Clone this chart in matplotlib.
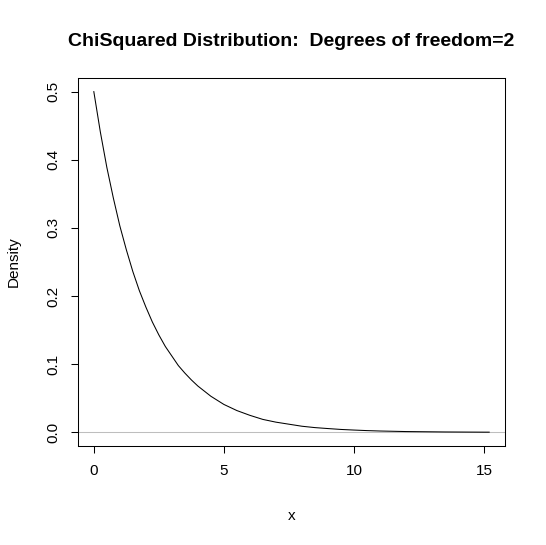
import matplotlib
matplotlib.use('Agg')
import matplotlib.pyplot as plt

# Valores (densidade qui-quadrado, 2 graus de liberdade)
x_vals = [0, 0.25, 0.5, 0.75, 1, 1.25, 1.5, 1.75, 2, 2.25, 2.5, 2.75, 3, 3.25, 3.5, 3.75, 4,
          4.5, 5, 5.5, 6, 6.5, 7, 7.5, 8, 8.5, 9, 9.5, 10, 10.5, 11, 11.5, 12, 12.5,
          13, 13.5, 14, 14.5, 15, 15.2]
density = [0.500, 0.441, 0.389, 0.344, 0.303, 0.268, 0.236, 0.208, 0.184, 0.162, 0.143,
           0.126, 0.112, 0.098, 0.087, 0.077, 0.068,
           0.053, 0.041, 0.032, 0.025, 0.019, 0.015, 0.012, 0.009, 0.007, 0.0056, 0.0043,
           0.0034, 0.0026, 0.0020, 0.0016, 0.0012, 0.0010, 0.0008, 0.0006, 0.0005,
           0.0004, 0.0003, 0.0003]
x_ticks = [0, 5, 10, 15]
y_ticks = [0.0, 0.1, 0.2, 0.3, 0.4, 0.5]

plt.rcParams['font.family'] = ['Liberation Sans', 'DejaVu Sans']

fig = plt.figure(figsize=(5.46, 5.45), dpi=100)
ax = fig.add_axes([78 / 546, 1 - 446 / 545, (505 - 78) / 546, (446 - 78) / 545])

lw = 0.75
ax.axhline(0, color='#bebebe', linewidth=lw)
ax.plot(x_vals, density, color='black', linewidth=lw)

xr = max(x_vals) - min(x_vals)
ax.set_xlim(min(x_vals) - 0.04 * xr, max(x_vals) + 0.04 * xr)
ax.set_ylim(-0.02, 0.52)

ax.set_xticks(x_ticks)
ax.set_xticklabels([str(t) for t in x_ticks])
ax.set_yticks(y_ticks)
ax.set_yticklabels([f'{t:.1f}' for t in y_ticks], rotation=90, va='center')
ax.tick_params(direction='out', length=5, width=lw, labelsize=11, pad=8, color='black')

for s in ax.spines.values():
    s.set_linewidth(lw)

# rótulos dos eixos posicionados em coordenadas da figura
fig.text(291.5 / 546, 1 - 516 / 545, 'x', ha='center', va='center', fontsize=11)
fig.text(14 / 546, 1 - 262 / 545, 'Density', ha='center', va='center', fontsize=11,
         rotation=90)
fig.text(291.5 / 546, 1 - 42 / 545, 'ChiSquared Distribution:  Degrees of freedom=2',
         ha='center', va='center', fontsize=14, fontweight='bold')

fig.savefig('out.png', dpi=100)
